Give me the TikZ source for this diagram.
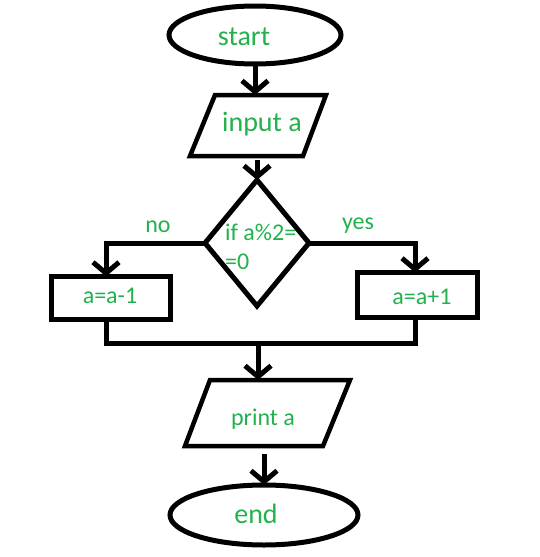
\documentclass[tikz,border=0pt]{standalone}
\usepackage{fontspec}
\setmainfont{Carlito}
\usetikzlibrary{shapes.geometric,arrows.meta}
\definecolor{txtgreen}{RGB}{34,177,76}
\begin{document}
\begin{tikzpicture}[x=1pt,y=-1pt,
  shapeline/.style={draw=black,line width=5pt,outer sep=0pt,inner sep=0pt},
  term/.style={shapeline,ellipse},
  io/.style={draw=black,line width=4.5pt,line join=miter},
  procbox/.style={shapeline,rectangle},
  decide/.style={shapeline,diamond},
  bigtxt/.style={text=txtgreen,font=\fontsize{28}{30}\selectfont,anchor=base,inner sep=0pt},
  smalltxt/.style={text=txtgreen,font=\fontsize{24}{26}\selectfont,anchor=base,inner sep=0pt},
  conn/.style={line width=5pt,draw=black},
  arr/.style={conn,-{Straight Barb[length=11pt,width=26pt]}}
]
\useasboundingbox (0,0) rectangle (539,557);
% shapes
\node[term,minimum width=172pt,minimum height=58pt] (start) at (255,35) {};
\coordinate (inTL) at (215,95);
\coordinate (inTR) at (326,95);
\coordinate (inBR) at (303,156);
\coordinate (inBL) at (190,156);
\draw[io] (inTL) -- (inTR) -- (inBR) -- (inBL) -- cycle;
\node[decide,minimum width=104pt,minimum height=126pt] (dia) at (257,243) {};
\node[procbox,minimum width=119pt,minimum height=43pt] (nobox) at (111,298) {};
\node[procbox,minimum width=120pt,minimum height=45pt] (yesbox) at (417.5,295) {};
\coordinate (prTL) at (210,380);
\coordinate (prTR) at (350,380);
\coordinate (prBR) at (323,446);
\coordinate (prBL) at (185,446);
\draw[io] (prTL) -- (prTR) -- (prBR) -- (prBL) -- cycle;
\node[term,minimum width=188pt,minimum height=60pt] (end) at (264,515) {};
% texts
\node[bigtxt] (tstart) at (244,45) {start};
\node[bigtxt] (tinput) at (262,131) {input a};
\node[smalltxt,anchor=base west] (tif1) at (225,240) {if a\%2=};
\node[smalltxt,anchor=base west] (tif2) at (225,269) {=0};
\node[smalltxt] (tno) at (158,232) {no};
\node[smalltxt] (tyes) at (358,229) {yes};
\node[smalltxt] (tdec) at (110,303) {a=a-1};
\node[smalltxt] (tinc) at (422,304) {a=a+1};
\node[smalltxt] (tprint) at (263,425) {print a};
\node[bigtxt] (tend) at (256,523) {end};
% connectors
\coordinate (jl) at (106,343);
\coordinate (jr) at (415,343);
\coordinate (jm) at (258,343);
\draw[arr] (start.south) -- (start.south |- inTL);
\draw[arr,shorten <=4pt] (dia.north |- inBL) -- (dia.north);
\draw[arr] (dia.west) -| (nobox.north -| jl);
\draw[arr] (dia.east) -| (yesbox.north -| jr);
\draw[conn] (nobox.south -| jl) -- (jl) -- (jr) -- (yesbox.south -| jr);
\draw[arr] (jm) -- (jm |- prTL);
\draw[arr,shorten <=8pt] (end.north |- prBL) -- (end.north);
\end{tikzpicture}
\end{document}
